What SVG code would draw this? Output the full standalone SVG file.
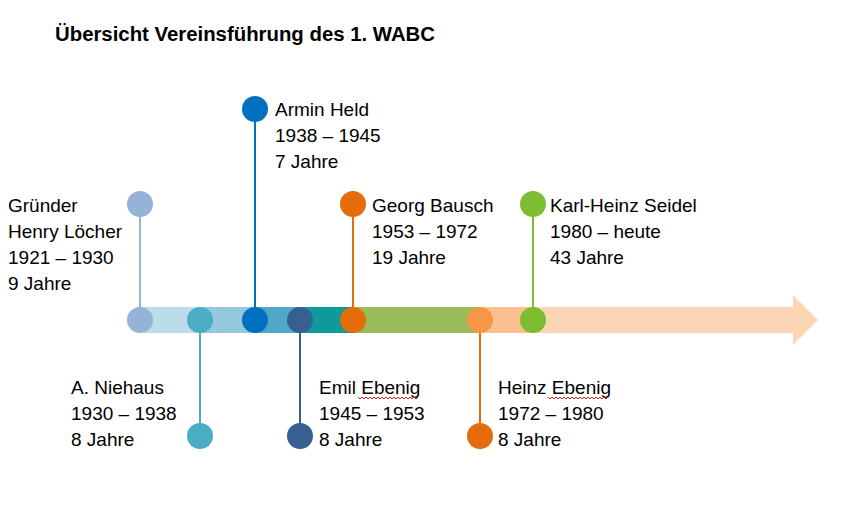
<svg xmlns="http://www.w3.org/2000/svg" width="854" height="508" viewBox="0 0 854 508">
<style>
text{font-family:"Liberation Sans",Arial,sans-serif;font-size:19px;fill:#000}
.title{font-size:20px;font-weight:bold}
.ln{stroke-width:2;fill:none}
.sq{stroke:#e02020;stroke-width:1;fill:none}
</style>
<rect width="854" height="508" fill="#fff"/>
<text class="title" x="55" y="41" textLength="380" lengthAdjust="spacingAndGlyphs">Übersicht Vereinsführung des 1. WABC</text>
<g id="timeline">
<path d="M533 307H793V295L818 320L793 345V333H533Z" fill="#FCD5B5"/>
<rect x="480" y="307" width="53" height="26" fill="#FAC090"/>
<rect x="353" y="307" width="127" height="26" fill="#9BBB59"/>
<rect x="300" y="307" width="53" height="26" fill="#0E9A9A"/>
<rect x="255" y="307" width="45" height="26" fill="#4FA8C8"/>
<rect x="200" y="307" width="55" height="26" fill="#94C9DC"/>
<rect x="140" y="307" width="60" height="26" fill="#BCDDE8"/>
</g>
<g id="connectors">
<line class="ln" x1="140" y1="204" x2="140" y2="320" stroke="#95B3D7"/>
<line class="ln" x1="255" y1="109" x2="255" y2="320" stroke="#0070C0"/>
<line class="ln" x1="353" y1="204" x2="353" y2="320" stroke="#E46C0A"/>
<line class="ln" x1="533" y1="204" x2="533" y2="320" stroke="#7CBD31"/>
<line class="ln" x1="200" y1="320" x2="200" y2="436" stroke="#4BACC6"/>
<line class="ln" x1="300" y1="320" x2="300" y2="436" stroke="#376092"/>
<line class="ln" x1="480" y1="320" x2="480" y2="436" stroke="#E46C0A"/>
</g>
<g id="node-loecher">
<circle cx="140" cy="204" r="13" fill="#95B3D7"/>
<circle cx="140" cy="320" r="13" fill="#95B3D7"/>
<text x="8" y="212">Gründer</text>
<text x="8" y="238">Henry Löcher</text>
<text x="8" y="264">1921 – 1930</text>
<text x="8" y="290">9 Jahre</text>
</g>
<g id="node-niehaus">
<circle cx="200" cy="320" r="13" fill="#4BACC6"/>
<circle cx="200" cy="436" r="13" fill="#4BACC6"/>
<text x="71" y="394">A. Niehaus</text>
<text x="71" y="420">1930 – 1938</text>
<text x="71" y="446">8 Jahre</text>
</g>
<g id="node-held">
<circle cx="255" cy="109" r="13" fill="#0070C0"/>
<circle cx="255" cy="320" r="13" fill="#0070C0"/>
<text x="275" y="116">Armin Held</text>
<text x="275" y="142">1938 – 1945</text>
<text x="275" y="168">7 Jahre</text>
</g>
<g id="node-emil">
<circle cx="300" cy="320" r="13" fill="#376092"/>
<circle cx="300" cy="436" r="13" fill="#376092"/>
<text x="319" y="394">Emil Ebenig</text>
<text x="319" y="420">1945 – 1953</text>
<text x="319" y="446">8 Jahre</text>
<polyline class="sq" points="358,397 360,399 362,397 364,399 366,397 368,399 370,397 372,399 374,397 376,399 378,397 380,399 382,397 384,399 386,397 388,399 390,397 392,399 394,397 396,399 398,397 400,399 402,397 404,399 406,397 408,399 410,397 412,399 414,397 416,399 418,397"/>
</g>
<g id="node-bausch">
<circle cx="353" cy="204" r="13" fill="#E46C0A"/>
<circle cx="353" cy="320" r="13" fill="#E46C0A"/>
<text x="372" y="212">Georg Bausch</text>
<text x="372" y="238">1953 – 1972</text>
<text x="372" y="264">19 Jahre</text>
</g>
<g id="node-heinz">
<circle cx="480" cy="320" r="13" fill="#F79646"/>
<circle cx="480" cy="436" r="13" fill="#E46C0A"/>
<text x="498" y="394">Heinz Ebenig</text>
<text x="498" y="420">1972 – 1980</text>
<text x="498" y="446">8 Jahre</text>
<polyline class="sq" points="548,397 550,399 552,397 554,399 556,397 558,399 560,397 562,399 564,397 566,399 568,397 570,399 572,397 574,399 576,397 578,399 580,397 582,399 584,397 586,399 588,397 590,399 592,397 594,399 596,397 598,399 600,397 602,399 604,397 606,399 608,397"/>
</g>
<g id="node-seidel">
<circle cx="533" cy="204" r="13" fill="#7CBD31"/>
<circle cx="533" cy="320" r="13" fill="#7CBD31"/>
<text x="550" y="212">Karl-Heinz Seidel</text>
<text x="550" y="238">1980 – heute</text>
<text x="550" y="264">43 Jahre</text>
</g>
</svg>
